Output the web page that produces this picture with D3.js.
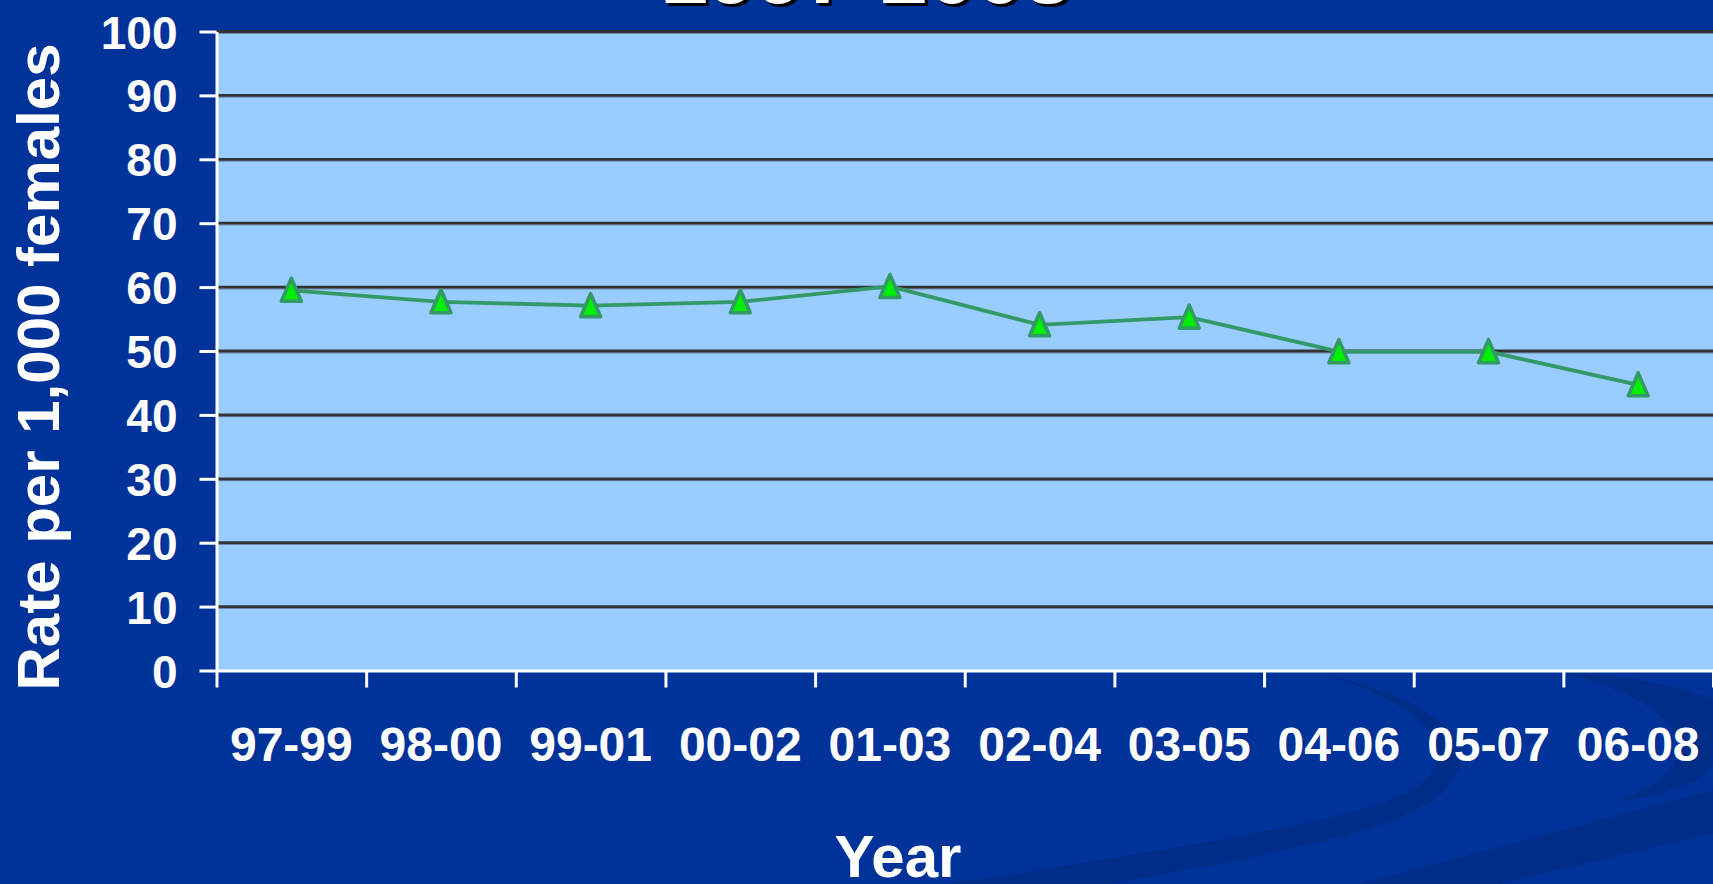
<!DOCTYPE html>
<html>
<head>
<meta charset="utf-8">
<script src="https://cdn.jsdelivr.net/npm/d3@7"></script>
<style>
  html, body { margin: 0; padding: 0; background: #003399; overflow: hidden; }
  svg { display: block; }
  text { font-family: "Liberation Sans", Arial, sans-serif; font-weight: bold; }
</style>
</head>
<body>
<div id="chart"></div>
<script>
// chart data
var periods = ["97-99", "98-00", "99-01", "00-02", "01-03", "02-04", "03-05", "04-06", "05-07", "06-08"];
var rates = [59.5, 57.7, 57.1, 57.7, 60.1, 54.1, 55.3, 49.9, 49.9, 44.7];
var yTicks = [0, 10, 20, 30, 40, 50, 60, 70, 80, 90, 100];
var titleText = "1997-2008";
var xTitle = "Year";
var yTitle = "Rate per 1,000 females";

var width = 1713, height = 884;
var margin = {top: 31.5, right: 0, bottom: 213.5, left: 216.5};
var plotW = width - margin.left - margin.right;
var plotH = height - margin.top - margin.bottom;

var svg = d3.select('#chart').append('svg')
    .attr('width', width)
    .attr('height', height);

// background + the darker swooshes of the slide template
svg.append('rect')
  .attr('width', width)
  .attr('height', height)
  .attr('fill', '#003399');

var swooshes = [
  "M1322,674 C1455,712 1470,772 1385,802 C1300,830 1150,852 950,884 L1110,884 C1260,856 1405,832 1445,790 C1490,742 1435,700 1322,674 Z",
  "M1560,672 C1685,702 1722,762 1617,802 C1690,792 1713,772 1713,762 L1713,700 C1675,684 1620,675 1560,672 Z",
  "M1360,884 L1713,790 L1713,833 L1500,884 Z"
];
svg.selectAll('path.swoosh').data(swooshes)
  .enter().append('path')
  .attr('class', 'swoosh')
  .attr('d', function(d) { return d; })
  .attr('fill', '#002d87');

// title (mostly cut off at the top)
svg.append('text')
  .attr('x', 869).attr('y', 6)
  .attr('text-anchor', 'middle')
  .attr('font-size', 86)
  .attr('fill', '#000')
  .text(titleText);
svg.append('text')
  .attr('x', 866).attr('y', 3)
  .attr('text-anchor', 'middle')
  .attr('font-size', 86)
  .attr('fill', '#fff')
  .text(titleText);

var g = svg.append('g')
  .attr('transform', 'translate(' + margin.left + ',' + margin.top + ')');

var x = d3.scaleBand().domain(periods).range([0, plotW]).padding(0);
var xEdge = d3.scaleLinear().domain([0, periods.length]).range([0, plotW]);
var y = d3.scaleLinear().domain([0, 100]).range([plotH, 0]);

g.append('rect')
  .attr('width', plotW)
  .attr('height', plotH)
  .attr('fill', '#99ccff');

// gridlines
var grid = g.selectAll('g.grid').data(yTicks.filter(function(v) { return v > 0; }))
  .enter().append('g').attr('class', 'grid');
grid.append('line')
  .attr('x1', 0).attr('x2', plotW)
  .attr('y1', function(d) { return y(d) + 1.8; }).attr('y2', function(d) { return y(d) + 1.8; })
  .attr('stroke', '#6b87ab').attr('stroke-width', 1.2);
grid.append('line')
  .attr('x1', 0).attr('x2', plotW)
  .attr('y1', function(d) { return y(d); }).attr('y2', function(d) { return y(d); })
  .attr('stroke', '#333333').attr('stroke-width', 2.8);

// y axis
var yAxis = g.append('g')
  .call(d3.axisLeft(y).tickValues(yTicks).tickSize(17).tickSizeOuter(0).tickPadding(22));
yAxis.select('.domain').attr('stroke', '#fff').attr('stroke-width', 3);
yAxis.selectAll('.tick line').attr('stroke', '#fff').attr('stroke-width', 3);
yAxis.selectAll('.tick text')
  .attr('fill', '#fff')
  .attr('font-size', 46)
  .attr('font-family', '"Liberation Sans", Arial, sans-serif')
  .attr('font-weight', 'bold')
  .attr('dy', '0.36em');

// x axis: ticks between categories, labels at centres
var xAxis = g.append('g')
  .attr('transform', 'translate(0,' + plotH + ')')
  .call(d3.axisBottom(xEdge).tickValues(d3.range(periods.length + 1)).tickSize(17).tickSizeOuter(0).tickFormat(''));
xAxis.select('.domain').attr('stroke', '#fff').attr('stroke-width', 3);
xAxis.selectAll('.tick line').attr('stroke', '#fff').attr('stroke-width', 3);

g.selectAll('text.xlab').data(periods)
  .enter().append('text')
  .attr('class', 'xlab')
  .attr('x', function(d) { return x(d) + x.bandwidth() / 2; })
  .attr('y', plotH + 90)
  .attr('text-anchor', 'middle')
  .attr('font-size', 48)
  .attr('fill', '#fff')
  .text(function(d) { return d; });

// axis titles
svg.append('text')
  .attr('x', 898).attr('y', 877)
  .attr('text-anchor', 'middle')
  .attr('font-size', 60)
  .attr('fill', '#fff')
  .text(xTitle);
svg.append('text')
  .attr('transform', 'translate(59,367) rotate(-90)')
  .attr('text-anchor', 'middle')
  .attr('font-size', 60)
  .attr('fill', '#fff')
  .text(yTitle);

// the series
var line = d3.line()
  .x(function(d, i) { return x(periods[i]) + x.bandwidth() / 2; })
  .y(function(d) { return y(d); });

g.append('path')
  .datum(rates)
  .attr('d', line)
  .attr('fill', 'none')
  .attr('stroke', '#339966')
  .attr('stroke-width', 3.8);

g.selectAll('path.marker').data(rates)
  .enter().append('path')
  .attr('class', 'marker')
  .attr('transform', function(d, i) {
    return 'translate(' + (x(periods[i]) + x.bandwidth() / 2) + ',' + y(d) + ')';
  })
  .attr('d', 'M0,-12 L10,11 L-10,11 Z')
  .attr('fill', '#00ee00')
  .attr('stroke', '#339966')
  .attr('stroke-width', 3.5)
  .attr('stroke-linejoin', 'round');
</script>
</body>
</html>
